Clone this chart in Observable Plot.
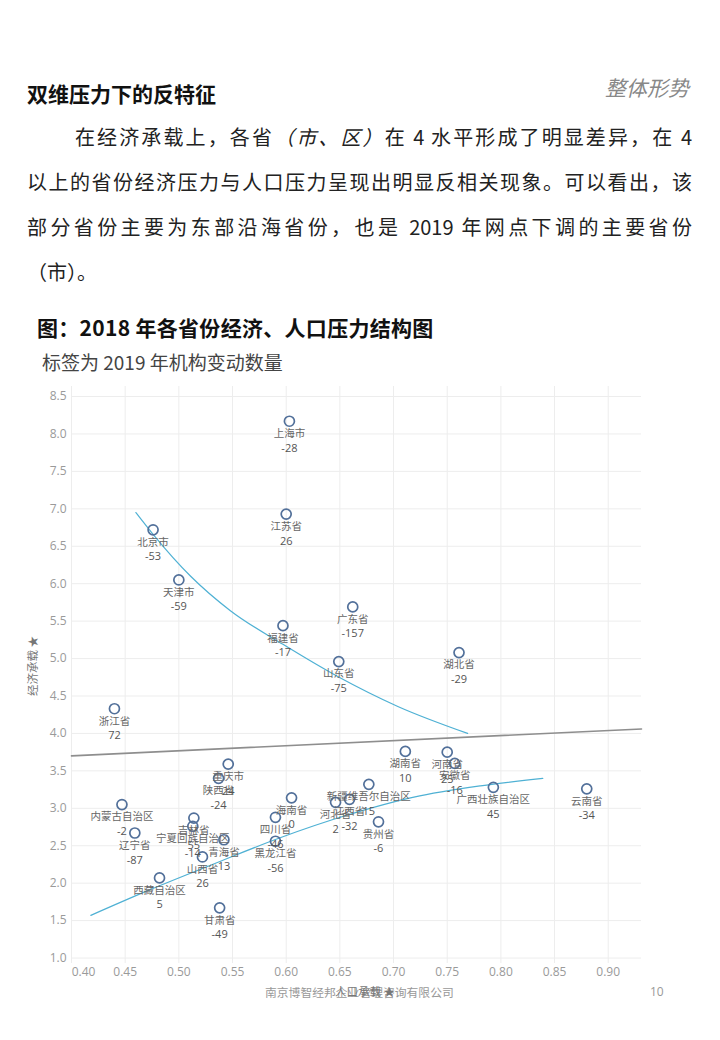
<!DOCTYPE html>
<html><head><meta charset="utf-8">
<script src="https://cdn.jsdelivr.net/npm/d3@7"></script>
<script src="https://cdn.jsdelivr.net/npm/@observablehq/plot@0.6"></script>
<style>
body{margin:0;background:#fff;width:720px;height:1040px;position:relative;overflow:hidden;font-family:"Noto Sans CJK SC",sans-serif;}
.abs{position:absolute;white-space:nowrap;line-height:1;}
#h1{left:27px;top:83px;font-size:21px;font-weight:700;color:#111;}
#tag{left:605px;top:77px;font-size:21px;font-style:italic;color:#888;}
.para{position:absolute;white-space:nowrap;font-size:20px;line-height:1;color:#222;text-align:justify;text-align-last:justify;}
#l1{left:75px;width:617px;top:127px;}
#l2{left:27px;width:665px;top:172px;}
#l3{left:27px;width:665px;top:217px;}
#l4{left:27px;top:262px;text-align:left;text-align-last:left;}
#ctitle{left:37px;top:317px;font-size:21px;font-weight:700;color:#111;letter-spacing:0.3px;}
#csub{left:42px;top:352px;font-size:19px;color:#444;}
#chart{position:absolute;left:0;top:376px;}
#ylab{left:33px;top:666px;font-size:11.5px;color:#777;transform:translate(-50%,-50%) rotate(-90deg);}
#xlab{left:365px;top:992px;font-size:11.5px;color:#777;transform:translate(-50%,-50%);}
#foot{left:265px;top:992px;font-size:11.8px;color:#999;transform:translateY(-50%);}
#page{left:650px;top:992px;font-size:12px;color:#999;font-family:"Open Sans";transform:translateY(-50%);}
</style></head>
<body>
<div id="h1" class="abs">双维压力下的反特征</div>
<div id="tag" class="abs">整体形势</div>
<div id="l1" class="para">在经济承载上，各省<i>（市、区）</i>在 4 水平形成了明显差异，在 4</div>
<div id="l2" class="para">以上的省份经济压力与人口压力呈现出明显反相关现象。可以看出，该</div>
<div id="l3" class="para">部分省份主要为东部沿海省份，也是 2019 年网点下调的主要省份</div>
<div id="l4" class="para">（市）。</div>
<div id="ctitle" class="abs">图：2018 年各省份经济、人口压力结构图</div>
<div id="csub" class="abs">标签为 2019 年机构变动数量</div>
<div id="chart"></div>
<div id="foot" class="abs">南京博智经邦企业管理咨询有限公司</div>
<div id="xlab" class="abs">人口承载 ★</div>
<div id="ylab" class="abs">经济承载 ★</div>
<div id="page" class="abs">10</div>
<script>
const provinces = ["上海市","江苏省","广东省","福建省","山东省","湖北省","北京市","天津市","浙江省","重庆市","陕西省","内蒙古自治区","辽宁省","吉林省","宁夏回族自治区","海南省","四川省","黑龙江省","青海省","山西省","西藏自治区","甘肃省","湖南省","河南省","安徽省","新疆维吾尔自治区","河北省","江西省","贵州省","广西壮族自治区","云南省"];
const popLoad = [0.603,0.600,0.662,0.597,0.649,0.761,0.476,0.500,0.440,0.546,0.537,0.447,0.459,0.514,0.513,0.605,0.590,0.590,0.542,0.522,0.482,0.538,0.711,0.750,0.757,0.677,0.646,0.659,0.686,0.793,0.880];
const econLoad = [8.17,6.93,5.69,5.44,4.96,5.08,6.72,6.05,4.33,3.59,3.40,3.05,2.67,2.87,2.76,3.14,2.88,2.56,2.58,2.35,2.07,1.67,3.76,3.75,3.60,3.32,3.08,3.12,2.82,3.28,3.26];
const change2019 = [-28,26,-157,-17,-75,-29,-53,-59,72,24,-24,-2,-87,55,-14,0,-46,-56,13,26,5,-49,10,25,-16,15,2,-32,-6,45,-34];

const upperTrendX = [0.460,0.476,0.511,0.548,0.597,0.648,0.704,0.769];
const upperTrendY = [6.95,6.66,6.10,5.64,5.19,4.76,4.36,4.00];
const lowerTrendX = [0.418,0.471,0.533,0.595,0.657,0.719,0.781,0.839];
const lowerTrendY = [1.57,1.90,2.26,2.61,2.91,3.15,3.30,3.40];
const allTrendX = [0.400,0.931];
const allTrendY = [3.70,4.06];

const xTicks = [0.40,0.45,0.50,0.55,0.60,0.65,0.70,0.75,0.80,0.85,0.90];
const yTicks = [1.0,1.5,2.0,2.5,3.0,3.5,4.0,4.5,5.0,5.5,6.0,6.5,7.0,7.5,8.0,8.5];

const points = provinces.map((p,i)=>({name:p, x:popLoad[i], y:econLoad[i], v:change2019[i]}));
const toPts = (xs,ys)=>xs.map((x,i)=>({x, y:ys[i]}));
const upper = toPts(upperTrendX, upperTrendY);
const lower = toPts(lowerTrendX, lowerTrendY);
const all = toPts(allTrendX, allTrendY);
const f2 = d3.format(".2f"), f1 = d3.format(".1f");

const chart = Plot.plot({
  width: 720, height: 624,
  marginLeft: 71, marginRight: 79, marginTop: 10, marginBottom: 37,
  x: {domain: [0.40, 0.931]},
  y: {domain: [0.927, 8.634]},
  style: {fontFamily: "Open Sans", fontSize: "12px", color: "#9a9a9a", background: "transparent", overflow: "visible"},
  marks: [
    Plot.gridX(xTicks, {stroke: "#ededed", strokeOpacity: 1}),
    Plot.gridY(yTicks, {stroke: "#ededed", strokeOpacity: 1}),
    Plot.axisX(xTicks.slice(1), {tickSize: 0, tickPadding: 4, tickFormat: f2, label: null}),
    Plot.axisX(xTicks.slice(0,1), {tickSize: 0, tickPadding: 4, tickFormat: f2, label: null, dx: 12}),
    Plot.axisY(yTicks, {tickSize: 0, tickPadding: 5, tickFormat: f1, label: null}),
    Plot.line(all, {x: "x", y: "y", stroke: "#8e8e8e", strokeWidth: 1.6}),
    Plot.line(upper, {x: "x", y: "y", stroke: "#4fb1d4", strokeWidth: 1.2, curve: "monotone-x"}),
    Plot.line(lower, {x: "x", y: "y", stroke: "#4fb1d4", strokeWidth: 1.2, curve: "monotone-x"}),
    Plot.dot(points, {x: "x", y: "y", r: 5, stroke: "#52709a", strokeWidth: 1.7, fill: "none"}),
    Plot.text(points, {x: "x", y: "y", text: "name", dy: 12.5, fontSize: 10.5, fill: "#666", fontFamily: "Noto Sans CJK SC"}),
    Plot.text(points, {x: "x", y: "y", text: d => String(d.v), dy: 27, fontSize: 11, fill: "#555", fontFamily: "Open Sans"})
  ]
});
document.getElementById("chart").appendChild(chart);
</script>
</body></html>
